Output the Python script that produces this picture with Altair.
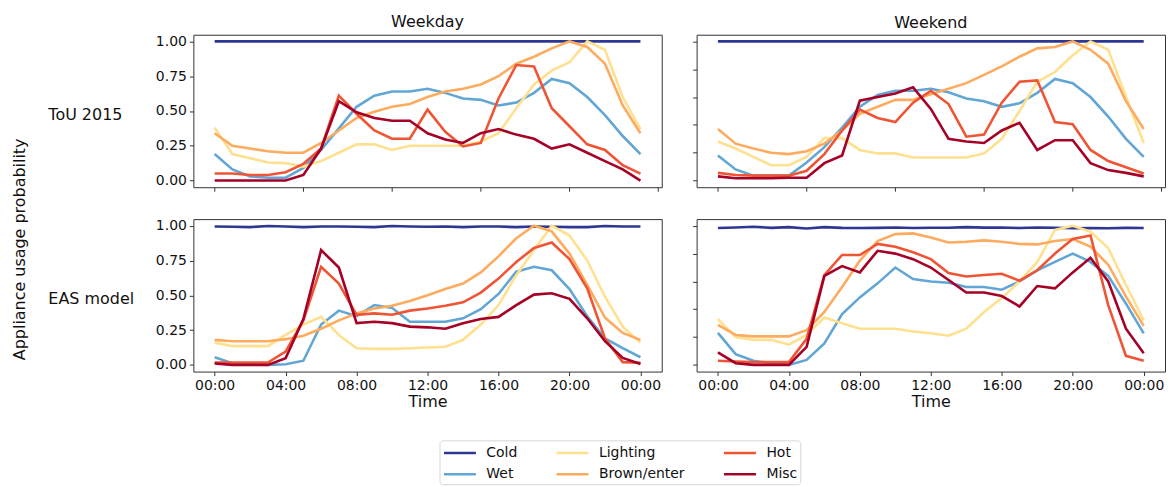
import altair as alt
import pandas as pd

hours = list(range(25))
appliances = ["Cold", "Wet", "Lighting", "Brown/enter", "Hot", "Misc"]
colors = ["#2e3792", "#62a6d6", "#fee08f", "#fdab5f", "#ef5534", "#a50026"]

# ToU 2015 - Weekday
tw_cold = [1.0, 1.0, 1.0, 1.0, 1.0, 1.0, 1.0, 1.0, 1.0, 1.0, 1.0, 1.0, 1.0, 1.0, 1.0, 1.0, 1.0, 1.0, 1.0, 1.0, 1.0, 1.0, 1.0, 1.0, 1.0]
tw_wet = [0.19, 0.08, 0.03, 0.02, 0.02, 0.09, 0.22, 0.375, 0.53, 0.61, 0.64, 0.64, 0.66, 0.63, 0.59, 0.58, 0.54, 0.56, 0.63, 0.73, 0.70, 0.60, 0.47, 0.32, 0.19]
tw_light = [0.38, 0.19, 0.16, 0.13, 0.125, 0.10, 0.14, 0.20, 0.26, 0.26, 0.22, 0.25, 0.25, 0.25, 0.25, 0.28, 0.34, 0.52, 0.69, 0.79, 0.85, 1.0, 0.94, 0.60, 0.37]
tw_brown = [0.34, 0.25, 0.23, 0.21, 0.20, 0.20, 0.27, 0.36, 0.45, 0.495, 0.53, 0.55, 0.60, 0.64, 0.66, 0.69, 0.75, 0.84, 0.89, 0.95, 1.0, 0.96, 0.84, 0.54, 0.34]
tw_hot = [0.05, 0.05, 0.04, 0.04, 0.06, 0.12, 0.23, 0.61, 0.48, 0.36, 0.30, 0.30, 0.51, 0.35, 0.245, 0.27, 0.59, 0.83, 0.82, 0.52, 0.39, 0.26, 0.22, 0.11, 0.05]
tw_misc = [0.0, 0.0, 0.0, 0.0, 0.0, 0.04, 0.23, 0.57, 0.49, 0.45, 0.43, 0.43, 0.34, 0.295, 0.27, 0.34, 0.37, 0.33, 0.30, 0.23, 0.26, 0.20, 0.14, 0.08, 0.0]

# ToU 2015 - Weekend
te_cold = [1.0, 1.0, 1.0, 1.0, 1.0, 1.0, 1.0, 1.0, 1.0, 1.0, 1.0, 1.0, 1.0, 1.0, 1.0, 1.0, 1.0, 1.0, 1.0, 1.0, 1.0, 1.0, 1.0, 1.0, 1.0]
te_wet = [0.18, 0.08, 0.035, 0.035, 0.035, 0.13, 0.24, 0.38, 0.53, 0.615, 0.645, 0.645, 0.66, 0.635, 0.59, 0.57, 0.53, 0.555, 0.63, 0.73, 0.70, 0.60, 0.46, 0.30, 0.17]
te_light = [0.28, 0.23, 0.17, 0.11, 0.11, 0.17, 0.305, 0.305, 0.22, 0.195, 0.195, 0.165, 0.165, 0.165, 0.165, 0.195, 0.30, 0.50, 0.71, 0.78, 0.90, 1.0, 0.94, 0.60, 0.27]
te_brown = [0.37, 0.265, 0.23, 0.20, 0.19, 0.21, 0.265, 0.36, 0.48, 0.53, 0.58, 0.58, 0.62, 0.66, 0.70, 0.76, 0.82, 0.89, 0.95, 0.96, 1.0, 0.94, 0.84, 0.57, 0.37]
te_hot = [0.055, 0.04, 0.035, 0.035, 0.035, 0.07, 0.19, 0.36, 0.51, 0.45, 0.42, 0.56, 0.645, 0.55, 0.315, 0.33, 0.56, 0.71, 0.72, 0.42, 0.405, 0.22, 0.14, 0.095, 0.05]
te_misc = [0.03, 0.016, 0.016, 0.016, 0.02, 0.02, 0.125, 0.18, 0.574, 0.60, 0.625, 0.67, 0.515, 0.30, 0.28, 0.27, 0.36, 0.415, 0.22, 0.29, 0.29, 0.125, 0.075, 0.055, 0.03]

# EAS model - Weekday
ew_cold = [0.995, 0.993, 0.99, 0.998, 0.995, 0.99, 0.995, 0.995, 0.993, 0.99, 0.998, 0.995, 0.993, 0.995, 0.99, 0.995, 0.995, 0.99, 0.995, 0.993, 0.99, 0.99, 0.998, 0.995, 0.995]
ew_wet = [0.055, 0.012, 0.005, 0.0, 0.005, 0.03, 0.29, 0.39, 0.35, 0.43, 0.41, 0.31, 0.31, 0.31, 0.335, 0.40, 0.51, 0.67, 0.705, 0.68, 0.545, 0.35, 0.19, 0.12, 0.055]
ew_light = [0.16, 0.135, 0.135, 0.135, 0.215, 0.29, 0.345, 0.215, 0.12, 0.115, 0.115, 0.12, 0.125, 0.13, 0.18, 0.29, 0.43, 0.645, 0.825, 1.0, 0.93, 0.75, 0.49, 0.275, 0.16]
ew_brown = [0.18, 0.17, 0.17, 0.17, 0.185, 0.21, 0.26, 0.32, 0.37, 0.405, 0.425, 0.46, 0.50, 0.545, 0.585, 0.665, 0.78, 0.91, 1.0, 0.96, 0.80, 0.575, 0.34, 0.23, 0.18]
ew_hot = [0.017, 0.017, 0.017, 0.017, 0.096, 0.32, 0.705, 0.585, 0.36, 0.37, 0.36, 0.39, 0.405, 0.425, 0.45, 0.52, 0.62, 0.74, 0.84, 0.88, 0.76, 0.55, 0.19, 0.02, 0.015]
ew_misc = [0.01, 0.0, 0.0, 0.0, 0.048, 0.33, 0.825, 0.70, 0.30, 0.31, 0.30, 0.275, 0.27, 0.26, 0.30, 0.33, 0.345, 0.43, 0.505, 0.515, 0.475, 0.335, 0.17, 0.05, 0.007]

# EAS model - Weekend
ee_cold = [0.984, 0.988, 0.993, 0.985, 0.99, 0.98, 0.99, 0.985, 0.984, 0.985, 0.988, 0.984, 0.986, 0.986, 0.99, 0.987, 0.988, 0.984, 0.988, 0.986, 0.982, 0.983, 0.982, 0.985, 0.984]
ee_wet = [0.23, 0.077, 0.03, 0.012, 0.0, 0.036, 0.155, 0.366, 0.485, 0.586, 0.70, 0.617, 0.60, 0.59, 0.56, 0.56, 0.54, 0.60, 0.68, 0.74, 0.80, 0.74, 0.64, 0.44, 0.227]
ee_light = [0.33, 0.20, 0.18, 0.18, 0.145, 0.215, 0.34, 0.30, 0.26, 0.26, 0.26, 0.24, 0.227, 0.21, 0.26, 0.38, 0.48, 0.60, 0.74, 0.97, 1.0, 0.957, 0.84, 0.574, 0.32]
ee_brown = [0.287, 0.215, 0.205, 0.205, 0.205, 0.25, 0.38, 0.56, 0.75, 0.89, 0.94, 0.945, 0.915, 0.88, 0.885, 0.895, 0.885, 0.87, 0.866, 0.89, 0.905, 0.85, 0.72, 0.49, 0.28]
ee_hot = [0.03, 0.024, 0.02, 0.02, 0.02, 0.187, 0.646, 0.79, 0.79, 0.87, 0.85, 0.81, 0.76, 0.66, 0.635, 0.646, 0.655, 0.605, 0.68, 0.80, 0.905, 0.93, 0.43, 0.065, 0.03]
ee_misc = [0.09, 0.012, 0.0, 0.0, 0.0, 0.13, 0.64, 0.71, 0.665, 0.82, 0.80, 0.76, 0.70, 0.61, 0.52, 0.52, 0.495, 0.42, 0.567, 0.55, 0.665, 0.77, 0.60, 0.26, 0.084]

panels = {
    ("ToU 2015", "Weekday"): [tw_cold, tw_wet, tw_light, tw_brown, tw_hot, tw_misc],
    ("ToU 2015", "Weekend"): [te_cold, te_wet, te_light, te_brown, te_hot, te_misc],
    ("EAS model", "Weekday"): [ew_cold, ew_wet, ew_light, ew_brown, ew_hot, ew_misc],
    ("EAS model", "Weekend"): [ee_cold, ee_wet, ee_light, ee_brown, ee_hot, ee_misc],
}

rows = []
for (scen, day), series in panels.items():
    for name, vals in zip(appliances, series):
        for h, v in zip(hours, vals):
            rows.append({"scenario": scen, "day": day, "appliance": name, "hour": h, "value": v})
df = pd.DataFrame(rows)

FONT = "DejaVu Sans"
W, H = 470, 153

color = alt.Color(
    "appliance:N",
    scale=alt.Scale(domain=appliances, range=colors),
    legend=alt.Legend(
        orient="none", legendX=247, legendY=407, columns=3, title=None,
        symbolType="M-1,0L3,0", symbolSize=256, symbolStrokeWidth=2.5,
        symbolFillColor="transparent",
        labelFontSize=14, labelFont=FONT, labelColor="#111", labelOffset=25,
        columnPadding=33, rowPadding=4.5, padding=3,
        strokeColor="#d6d6d6", cornerRadius=3, fillColor="white",
    ),
)


def panel(scen, day, top, left):
    if top:
        xaxis = alt.Axis(values=[0, 5, 10, 15, 20, 25], labels=False, title=None)
    else:
        xaxis = alt.Axis(
            values=[0, 4, 8, 12, 16, 20, 24],
            labelExpr="(datum.value % 24 < 10 ? '0' : '') + (datum.value % 24) + ':00'",
            title="Time", titlePadding=1,
        )
    if left:
        yaxis = alt.Axis(
            values=[0, 0.25, 0.5, 0.75, 1.0], format=".2f",
            title=scen, titleAngle=0, titleAlign="left", titleBaseline="middle",
            titleX=-146, titleY=80,
        )
    else:
        yaxis = alt.Axis(values=[0, 0.2, 0.4, 0.6, 0.8, 1.0], labels=False, title=None)
    ch = (
        alt.Chart(df)
        .transform_filter((alt.datum.scenario == scen) & (alt.datum.day == day))
        .mark_line(strokeWidth=2.6)
        .encode(
            x=alt.X("hour:Q", scale=alt.Scale(domain=[-1.2, 25.2], nice=False, zero=False), axis=xaxis),
            y=alt.Y("value:Q", scale=alt.Scale(domain=[-0.048, 1.048], nice=False, zero=False), axis=yaxis),
            color=color,
        )
    )
    props = dict(width=W, height=H)
    if top:
        props["title"] = alt.TitleParams(day, fontSize=16, fontWeight="normal", font=FONT, offset=4, color="#111")
    return ch.properties(**props)


row1 = alt.hconcat(panel("ToU 2015", "Weekday", True, True), panel("ToU 2015", "Weekend", True, False), spacing=29)
row2 = alt.hconcat(panel("EAS model", "Weekday", False, True), panel("EAS model", "Weekend", False, False), spacing=29)

chart = (
    alt.vconcat(row1, row2, spacing=26)
    .properties(
        title=alt.TitleParams("Appliance usage probability", orient="left", anchor="middle",
                              fontSize=16, fontWeight="normal", font=FONT, offset=19, color="#111"),
        padding={"left": 4, "top": 5, "right": 0, "bottom": 0},
    )
    .configure_view(stroke="#333", strokeWidth=1)
    .configure_axis(
        domain=False, grid=False, tickColor="#333", tickSize=4, tickWidth=1,
        labelFont=FONT, labelFontSize=14, labelColor="#111", labelPadding=3,
        titleFont=FONT, titleFontSize=16, titleFontWeight="normal", titleColor="#111",
    )
)

chart.save("out.html", embed_options={"renderer": "svg", "actions": False})
